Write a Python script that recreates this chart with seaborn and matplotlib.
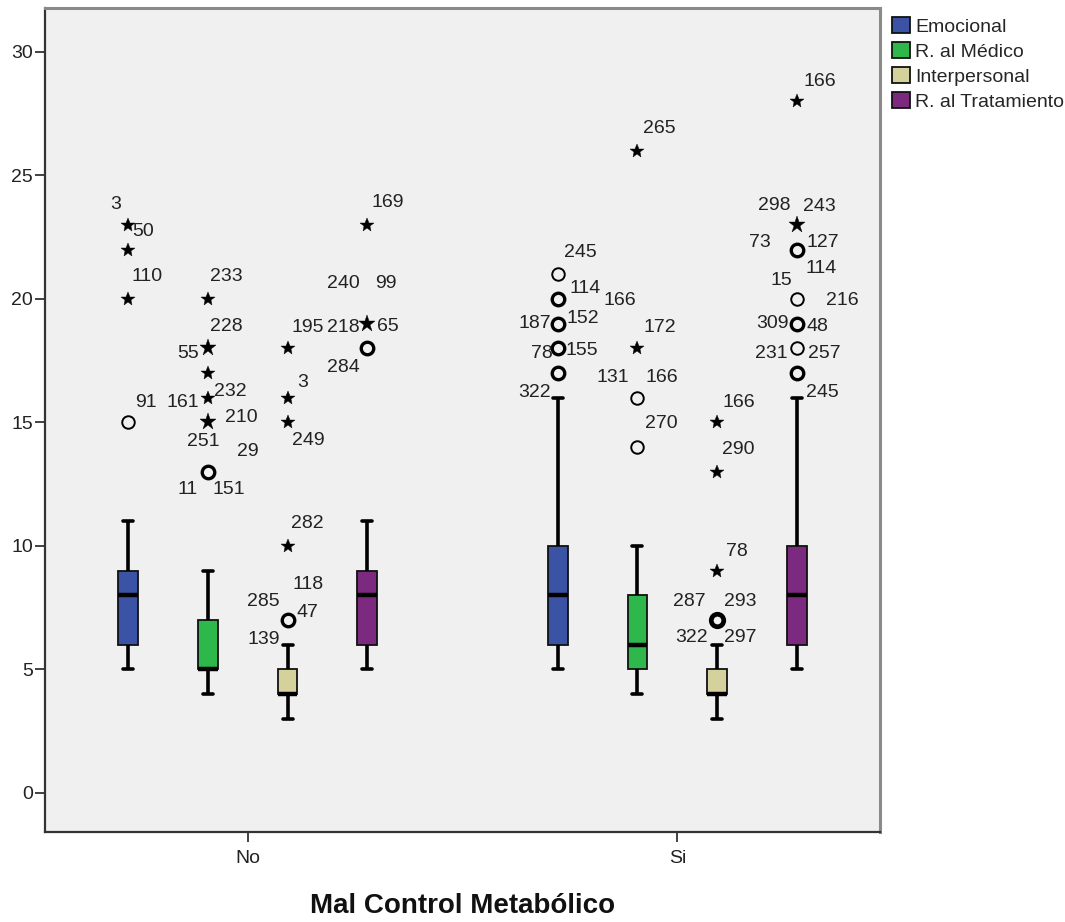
import numpy as np
import pandas as pd
import matplotlib
matplotlib.use("Agg")
import matplotlib.pyplot as plt
import seaborn as sns

# ---------------- data ----------------
groups = ["No", "Si"]
dimensions = ["Emocional", "R. al Médico", "Interpersonal", "R. al Tratamiento"]
palette = ["#3A53A4", "#2EB84B", "#D5D19D", "#7C2A7F"]

# five-number summaries per group (order of dimensions)
whisker_low_no = [5, 4, 3, 5]
q1_no = [6, 5, 4, 6]
median_no = [8, 5, 4, 8]
q3_no = [9, 7, 5, 9]
whisker_high_no = [11, 9, 6, 11]

whisker_low_si = [5, 4, 3, 5]
q1_si = [6, 5, 4, 6]
median_si = [8, 6, 4, 8]
q3_si = [10, 8, 5, 10]
whisker_high_si = [16, 10, 6, 16]

# outliers: group, dimension index, value, kind, stacked cases (1 = single)
out_group = ["No"] * 4 + ["No"] * 6 + ["No"] * 5 + ["No"] * 3 + \
            ["Si"] * 5 + ["Si"] * 4 + ["Si"] * 4 + ["Si"] * 7
out_dim = [0] * 4 + [1] * 6 + [2] * 5 + [3] * 3 + \
          [0] * 5 + [1] * 4 + [2] * 4 + [3] * 7
out_value = [23, 22, 20, 15,
             20, 18, 17, 16, 15, 13,
             18, 16, 15, 10, 7,
             23, 19, 18,
             21, 20, 19, 18, 17,
             26, 18, 16, 14,
             15, 13, 9, 7,
             28, 23, 22, 20, 19, 18, 17]
out_kind = ["*", "*", "*", "o",
            "*", "*", "*", "*", "*", "o",
            "*", "*", "*", "*", "o",
            "*", "*", "o",
            "o", "o", "o", "o", "o",
            "*", "*", "o", "o",
            "*", "*", "*", "o",
            "*", "*", "o", "o", "o", "o", "o"]
out_stack = [1, 1, 1, 1,
             1, 2, 1, 1, 2, 2,
             1, 1, 1, 1, 2,
             1, 2, 2,
             1, 2, 2, 2, 2,
             1, 1, 1, 1,
             1, 1, 1, 3,
             1, 2, 2, 1, 2, 1, 2]

# case labels: group, dimension index, value, text
lab_group = ["No"] * 28 + ["Si"] * 33
lab_dim = [0, 0, 0, 0,
           1, 1, 1, 1, 1, 1, 1, 1, 1, 1,
           2, 2, 2, 2, 2, 2, 2, 2,
           3, 3, 3, 3, 3, 3,
           0, 0, 0, 0, 0, 0, 0,
           1, 1, 1, 1, 1, 1,
           2, 2, 2, 2, 2, 2, 2,
           3, 3, 3, 3, 3, 3, 3, 3, 3, 3, 3, 3, 3]
lab_value = [23, 23, 20, 15,
             20, 18, 18, 16, 16, 15, 13, 13, 13, 13,
             18, 16, 15, 10, 7, 7, 7, 7,
             23, 19, 19, 19, 19, 18,
             21, 20, 19, 19, 18, 18, 17,
             26, 18, 18, 16, 16, 14,
             15, 13, 9, 7, 7, 7, 7,
             28, 23, 23, 22, 22, 20, 20, 20, 19, 19, 18, 18, 17]
lab_text = ["3", "50", "110", "91",
            "233", "228", "55", "161", "232", "210", "251", "29", "11", "151",
            "195", "3", "249", "282", "118", "285", "47", "139",
            "169", "240", "99", "218", "65", "284",
            "245", "114", "187", "152", "78", "155", "322",
            "265", "172", "166", "131", "166", "270",
            "166", "290", "78", "287", "293", "322", "297",
            "166", "298", "243", "73", "127", "114", "15", "216", "309", "48",
            "231", "257", "245"]
# label placement (pixels from the marker)
lab_offset = [(-12, 20), (16, -7), (20, 22), (18, 20),
              (19, 22), (19, 22), (-19, -5), (-25, -5), (23, 6), (34, 5),
              (-4, 30), (40, 20), (-20, -18), (21, -18),
              (20, 21), (15, 15), (21, -18), (20, 22), (21, 36), (-24, 19),
              (20, 8), (-24, -19),
              (20, 22), (-24, 40), (18, 40), (-24, -4), (20, -3), (-24, -19),
              (23, 22), (28, 10), (-23, 0), (25, 5), (-16, -5), (24, -2),
              (-23, -19),
              (22, 22), (22, 21), (-18, 48), (-25, 20), (24, 20), (24, 24),
              (21, 20), (21, 22), (19, 19), (-28, 19), (23, 19), (-26, -17),
              (23, -17),
              (22, 20), (-23, 19), (22, 18), (-38, 7), (25, 7), (24, 30),
              (-16, 18), (45, -2), (-25, 0), (20, -3), (-26, -5), (27, -5),
              (25, -19)]

# ---------------- build long table for the boxes ----------------
summ = {
    "No": [whisker_low_no, q1_no, median_no, q3_no, whisker_high_no],
    "Si": [whisker_low_si, q1_si, median_si, q3_si, whisker_high_si],
}
rows = []
for g in groups:
    for di, d in enumerate(dimensions):
        for stat in summ[g]:
            rows.append({"grupo": g, "dimension": d, "valor": stat[di]})
df = pd.DataFrame(rows)

# ---------------- style ----------------
sns.set_theme(style="ticks")
plt.rcParams["font.family"] = ["Liberation Sans", "DejaVu Sans"]

fig = plt.figure(figsize=(10.65, 9.22), dpi=100)
ax = fig.add_axes([45 / 1065, 90 / 922, 835 / 1065, 824 / 922])
ax.set_facecolor("#F0F0F0")

W = 0.744
GAP = 0.75
sns.boxplot(data=df, x="grupo", y="valor", hue="dimension",
            order=groups, hue_order=dimensions, palette=palette,
            width=W, gap=GAP, whis=(0, 100), showfliers=False,
            linecolor="#111111", linewidth=1.3,
            medianprops=dict(linewidth=3.2, color="black"),
            whiskerprops=dict(linewidth=2.6, color="black"),
            capprops=dict(linewidth=2.6, color="black"),
            saturation=1, ax=ax)

n = len(dimensions)


def xpos(g, d):
    return groups.index(g) + (d + 0.5) * W / n - W / 2


# outlier markers
for g, d, v, k, s in zip(out_group, out_dim, out_value, out_kind, out_stack):
    x = xpos(g, d)
    if k == "o":
        mew = {1: 1.4, 2: 2.4, 3: 3.4}[s]
        ax.plot([x], [v], marker="o", ms=9, mfc="none", mec="black",
                mew=mew, ls="none", zorder=5)
    else:
        ms = {1: 10, 2: 12.5, 3: 13}[s]
        ax.plot([x], [v], marker="*", ms=ms, color="black",
                mew=0.3, ls="none", zorder=5)

# outlier labels
for g, d, v, t, off in zip(lab_group, lab_dim, lab_value, lab_text, lab_offset):
    ax.annotate(t, (xpos(g, d), v), xytext=off, textcoords="offset pixels",
                ha="center", va="center", fontsize=14, color="#222222",
                zorder=6)

ax.set_xlim(-0.471, 1.471)
ax.set_ylim(-1.58, 31.78)
ax.set_yticks([0, 5, 10, 15, 20, 25, 30])
ax.tick_params(axis="both", labelsize=14, length=7, width=1.3,
               color="#333333", labelcolor="#222222")
ax.tick_params(axis="y", pad=1.5)
ax.tick_params(axis="x", pad=6)
ax.set_ylabel("")
ax.set_xlabel("Mal Control Metabólico", fontsize=20, fontweight="bold",
              labelpad=19, color="#111111")

for side in ["left", "bottom"]:
    ax.spines[side].set_color("#333333")
    ax.spines[side].set_linewidth(1.6)
for side in ["top", "right"]:
    ax.spines[side].set_visible(True)
    ax.spines[side].set_color("#8A8A8A")
    ax.spines[side].set_linewidth(2.2)

sns.move_legend(ax, "upper left", bbox_to_anchor=(1.004, 1.0), title=None,
                frameon=False, fontsize=14, handlelength=0.9,
                handleheight=0.9, handletextpad=0.3, labelspacing=0.33,
                borderaxespad=0.0, borderpad=0.45)

fig.savefig("out.png", dpi=100, facecolor="white")
